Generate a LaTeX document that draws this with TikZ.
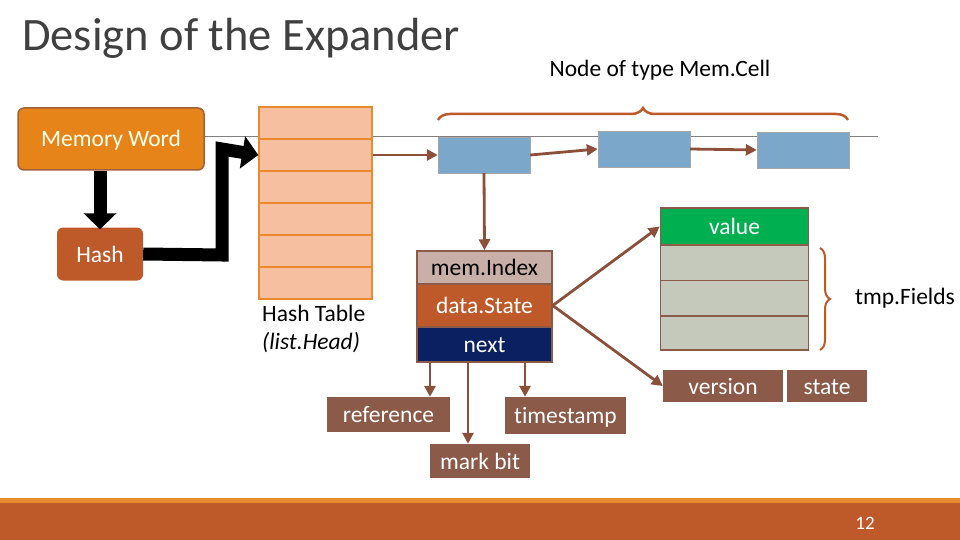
\documentclass[tikz,border=0pt]{standalone}
\usepackage{fontspec}
\setmainfont[Ligatures=NoCommon]{Carlito}
\usetikzlibrary{arrows.meta,decorations.pathreplacing}
\definecolor{morange}{HTML}{E6841A}
\definecolor{rust}{HTML}{BE5A2A}
\definecolor{brn}{HTML}{8C5A48}
\definecolor{arr}{HTML}{8B4F3A}
\definecolor{blu}{HTML}{7BA7CB}
\definecolor{peach}{HTML}{F5BFA0}
\definecolor{tbl}{HTML}{E88A2E}
\definecolor{grn}{HTML}{00B050}
\definecolor{gry}{HTML}{C5C9BC}
\definecolor{navy}{HTML}{0A2060}
\definecolor{mauve}{HTML}{C8B0A8}
\begin{document}
\begin{tikzpicture}[x=1pt,y=-1pt,font=\fontsize{23.5}{28}\selectfont,
  tx/.style={text height=17pt,text depth=1pt},
  cell/.style={tx,draw=brn,line width=1.5,inner sep=0,minimum width=148},
  bl/.style={fill=blu,draw=gray!70,minimum width=92,minimum height=36,inner sep=0},
  ba/.style={draw=arr,line width=2.8,-{Triangle[length=11,width=11]}},
  fat/.style={line width=13,-{Triangle[length=16,width=32]}}]
\useasboundingbox (0,0) rectangle (960,540);
\node[anchor=west,inner sep=0] (title) at (22,38) {\fontsize{46.5}{50}\selectfont\color{black!75}Design of the Expander};
\node (ntype) at (660,70) {Node of type Mem.Cell};
\draw[gray,line width=0.8] (205,136) -- (878,136);
\node[tx,draw=brn!80!orange,line width=1.5,fill=morange,rounded corners=6,minimum width=186,minimum height=62,inner sep=0,text=white!92!yellow] (mw) at (111,139) {Memory Word};
\node[tx,fill=rust,rounded corners=6,minimum width=86,minimum height=53,inner sep=0,text=white] (hash) at (100,254) {Hash};
% hash table
\foreach \i in {0,...,5}{
  \node[fill=peach,draw=tbl,line width=1.5,minimum width=113,minimum height=32,inner sep=0] (r\i) at (315.5,{123+32*\i}) {};}
\node[anchor=north west,align=left,inner sep=0] (ht) at (262,305) {Hash Table\\\textit{(list.Head)}};
\draw[fat] (mw.south -| 100,0) -- ([yshift=-2]hash.north -| 100,0);
\draw[fat] (hash.east) -- (222,255) -- (222,149) -- (r1.west);
% mem cells
\node[bl] (b1) at (484,155) {};
\node[bl] (b2) at (644,149) {};
\node[bl] (b3) at (803,150) {};
\draw[ba] (r1.east) -- (b1.west);
\draw[ba] (b1.east) -- (b2.west);
\draw[ba] (b2.east) -- (b3.west);
\draw[decorate,decoration={brace,amplitude=12,aspect=0.5},draw=rust,line width=2.5] (438,120) -- (848,120);
% memcell struct
\node[tx,fill=mauve,draw=brn,line width=1.5,minimum width=135,minimum height=33,inner sep=0] (mi) at (484.5,267.5) {mem.Index};
\node[tx,fill=rust,draw=brn,line width=1.5,minimum width=135,minimum height=43,inner sep=0,text=white] (ds) at (484.5,305.5) {data.State};
\node[tx,fill=navy,draw=brn,line width=1.5,minimum width=135,minimum height=35,inner sep=0,text=white] (nx) at (484.5,344.5) {next};
\draw[ba] (b1.south) -- (mi.north);
% value
\node[cell,fill=grn,minimum height=37,text=white] (val) at (734.5,226.5) {value};
\node[cell,fill=gry,minimum height=35] (g1) at (734.5,263) {};
\node[cell,fill=gry,minimum height=35] (g2) at (734.5,298) {};
\node[cell,fill=gry,minimum height=34] (g3) at (734.5,333) {};
\draw[decorate,decoration={brace,amplitude=10,aspect=0.5},draw=rust,line width=2] (820,248) -- (820,350);
\node[anchor=west,inner sep=0] (tf) at (855,298) {tmp.Fields};
\node[tx,fill=brn,minimum width=120,minimum height=32,inner sep=0,text=white] (ver) at (723,386) {version};
\node[tx,fill=brn,minimum width=80,minimum height=32,inner sep=0,text=white] (st) at (827,386) {state};
\draw[ba] (ds.east) -- (val.west);
\draw[ba] (ds.east) -- (ver.west);
% sub fields
\node[tx,fill=brn,minimum width=123,minimum height=35,inner sep=0,text=white] (ref) at (388.5,414.5) {reference};
\node[tx,fill=brn,minimum width=100,minimum height=34,inner sep=0,text=white] (mb) at (480,461) {mark bit};
\node[tx,fill=brn,minimum width=121,minimum height=37,inner sep=0,text=white] (ts) at (565.5,415.5) {timestamp};
\coordinate (n1) at (430,362); \coordinate (n2) at (468,362); \coordinate (n3) at (525,362);
\draw[ba] (n1) -- (ref.north -| n1);
\draw[ba] (n2) -- (mb.north -| n2);
\draw[ba] (n3) -- (ts.north -| n3);
% footer
\fill[tbl] (0,498) rectangle (960,503);
\fill[rust] (0,503) rectangle (960,540);
\node[text=white,font=\fontsize{19}{20}\selectfont] (pg) at (865,523) {12};
\end{tikzpicture}
\end{document}
